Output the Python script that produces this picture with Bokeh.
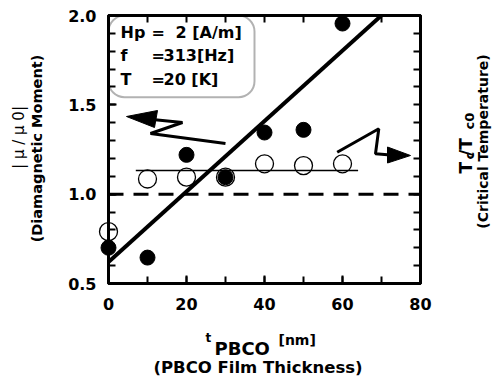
import math
from bokeh.plotting import figure
from bokeh.models import LinearAxis, SingleIntervalTicker, FixedTicker, Label, BoxAnnotation
from bokeh.embed import file_html
from bokeh.resources import INLINE

# ---------------- data ----------------
thickness = [0, 10, 20, 30, 40, 50, 60]
moment = [0.70, 0.645, 1.22, 1.095, 1.345, 1.36, 1.955]          # |mu/mu0|, filled
tc_thickness = [0, 10, 20, 30, 40, 50, 60]
tc_ratio = [0.79, 1.085, 1.095, 1.095, 1.17, 1.16, 1.17]           # Tc/Tc0, open

fit_x = [0, 72]
fit_y = [0.62, 2.04]
tc_line_x = [7, 64]
tc_line_y = [1.132, 1.132]
ref_x = [0, 80]
ref_y = [1.0, 1.0]

x_tick_labels = ["0", "20", "40", "60", "80"]
y_tick_labels = ["0.5", "1.0", "1.5", "2.0"]
x_tick_marks = [0, 10, 20, 30, 40, 50, 60, 70, 80]
y_tick_marks = [0.5, 0.6, 0.7, 0.8, 0.9, 1.0, 1.1, 1.2, 1.3, 1.4, 1.5,
                1.6, 1.7, 1.8, 1.9, 2.0]

box_keys = ["Hp", "f", "T"]
box_vals = ["2 [A/m]", "313[Hz]", "20 [K]"]

# ---------------- layout ----------------
W, H = 492, 383
FL, FR, FT, FB = 108, 420, 15, 283
X0, X1, Y0, Y1 = 0, 80, 0.5, 2.0


def sx(px):
    return X0 + (px - FL) * (X1 - X0) / (FR - FL)


def sy(py):
    return Y0 + (FB - py) * (Y1 - Y0) / (FB - FT)


FONT = "DejaVu Sans"

p = figure(width=W, height=H, x_range=(X0, X1), y_range=(Y0, Y1),
           output_backend="svg", toolbar_location=None,
           min_border_left=FL, min_border_right=W - FR,
           min_border_top=FT, min_border_bottom=H - FB)
p.xgrid.visible = False
p.ygrid.visible = False
p.outline_line_color = "black"
p.outline_line_width = 3
p.background_fill_color = "white"
p.border_fill_color = "white"


def style_axis(ax):
    ax.axis_line_width = 3
    ax.axis_line_color = "black"
    ax.major_tick_in = 8
    ax.major_tick_out = 0
    ax.minor_tick_in = 7
    ax.minor_tick_out = 0
    ax.major_tick_line_width = 2
    ax.minor_tick_line_width = 2
    ax.major_tick_line_color = "black"
    ax.minor_tick_line_color = "black"
    ax.major_label_text_font = FONT
    ax.major_label_text_font_style = "bold"
    ax.major_label_text_font_size = "16px"
    ax.major_label_text_color = "black"


p.xaxis.ticker = SingleIntervalTicker(interval=20, num_minor_ticks=2)
p.yaxis.ticker = SingleIntervalTicker(interval=0.5, num_minor_ticks=5)
style_axis(p.xaxis[0])
style_axis(p.yaxis[0])
p.xaxis.major_label_overrides = {i * 20: s for i, s in enumerate(x_tick_labels)}
p.yaxis.major_label_overrides = {0.5 + i * 0.5: s for i, s in enumerate(y_tick_labels)}
p.xaxis.major_label_standoff = 14
p.yaxis.major_label_standoff = 12

# top / right axes: tick marks only (minor ticks, so no labels are drawn)
top = LinearAxis(ticker=FixedTicker(ticks=[], minor_ticks=x_tick_marks))
style_axis(top)
top.major_label_standoff = 0
p.add_layout(top, "above")
right = LinearAxis(ticker=FixedTicker(ticks=[], minor_ticks=y_tick_marks))
style_axis(right)
right.major_label_standoff = 0
p.add_layout(right, "right")

# ---------------- lines ----------------
p.line(ref_x, ref_y, line_color="black", line_width=3, line_dash="15 10")
p.line(tc_line_x, tc_line_y, line_color="black", line_width=1.5)
p.line(fit_x, fit_y, line_color="black", line_width=4)

# ---------------- points ----------------
r_open = p.scatter(tc_thickness, tc_ratio, size=18, marker="circle",
                   fill_color="white", fill_alpha=0, line_color="black", line_width=1.3)
r_fill = p.scatter(thickness, moment, size=15, marker="circle",
                   fill_color="black", line_color="black")
r_open.level = "overlay"
r_fill.level = "overlay"

# ---------------- arrows ----------------
left_arrow_x = [sx(v) for v in (152, 182, 150, 225)]
left_arrow_y = [sy(v) for v in (119, 122, 133, 143)]
p.line(left_arrow_x, left_arrow_y, line_color="black", line_width=3)
p.patch([sx(126), sx(157), sx(154)], [sy(116), sy(110), sy(127)],
        fill_color="black", line_color="black")

right_arrow_x = [sx(v) for v in (336.7, 378.3, 375, 390)]
right_arrow_y = [sy(v) for v in (151.7, 128.3, 153.3, 154.5)]
p.line(right_arrow_x, right_arrow_y, line_color="black", line_width=3)
p.patch([sx(410), sx(387), sx(387)], [sy(155), sy(146.5), sy(162.5)],
        fill_color="black", line_color="black")

# ---------------- parameter box ----------------
p.add_layout(BoxAnnotation(left=sx(FL), right=sx(254), top=sy(FT), bottom=sy(96.7),
                           fill_alpha=0, line_color="black", line_width=2,
                           border_radius=16))


def lab(px, py, text, size, bold=True, angle=0.0, align="center", baseline="middle",
        place="center"):
    lbl = Label(x=sx(px), y=sy(py), text=text, text_font=FONT,
                text_font_style="bold" if bold else "normal",
                text_font_size=size, angle=angle, text_align=align,
                text_baseline=baseline, text_color="black")
    if place == "center":
        p.add_layout(lbl)
    else:
        p.add_layout(lbl, place)


row_y = [31.7, 55, 78.5]
val_x = [175, 163, 163]
for k, v, ry, vx in zip(box_keys, box_vals, row_y, val_x):
    lab(120, ry, k, "16px", align="left")
    lab(151, ry, "=", "16px", align="left")
    lab(vx, ry, v, "16px", align="left")

# ---------------- axis titles ----------------
# (labels in side panels are not clipped; spread so that no panel grows)
R = math.pi / 2
# x title
lab(205, 337, "t", "12px", align="left", baseline="alphabetic", place="left")
lab(214, 348, "PBCO", "18px", align="left", baseline="alphabetic", place="below")
lab(278, 339, "[nm]", "14px", align="left", baseline="alphabetic", place="below")
lab(257.5, 367, "(PBCO Film Thickness)", "16.5px", place="below")

# left title
lab(18, 137, "| μ / μ 0|", "15px", bold=False, angle=R, place="left")
lab(36, 148, "(Diamagnetic Moment)", "14.5px", angle=R, place="left")

# right title: T_c / T_c0
lab(465, 173, "T  /T", "17px", angle=R, align="left", baseline="alphabetic", place="right")
lab(469, 159, "c", "13px", angle=R, align="left", baseline="alphabetic", place="right")
lab(469, 129, "c0", "13px", angle=R, align="left", baseline="alphabetic", place="left")
lab(482, 141, "(Critical Temperature)", "14px", angle=R, place="right")

open("out.html", "w").write(file_html(p, INLINE))
